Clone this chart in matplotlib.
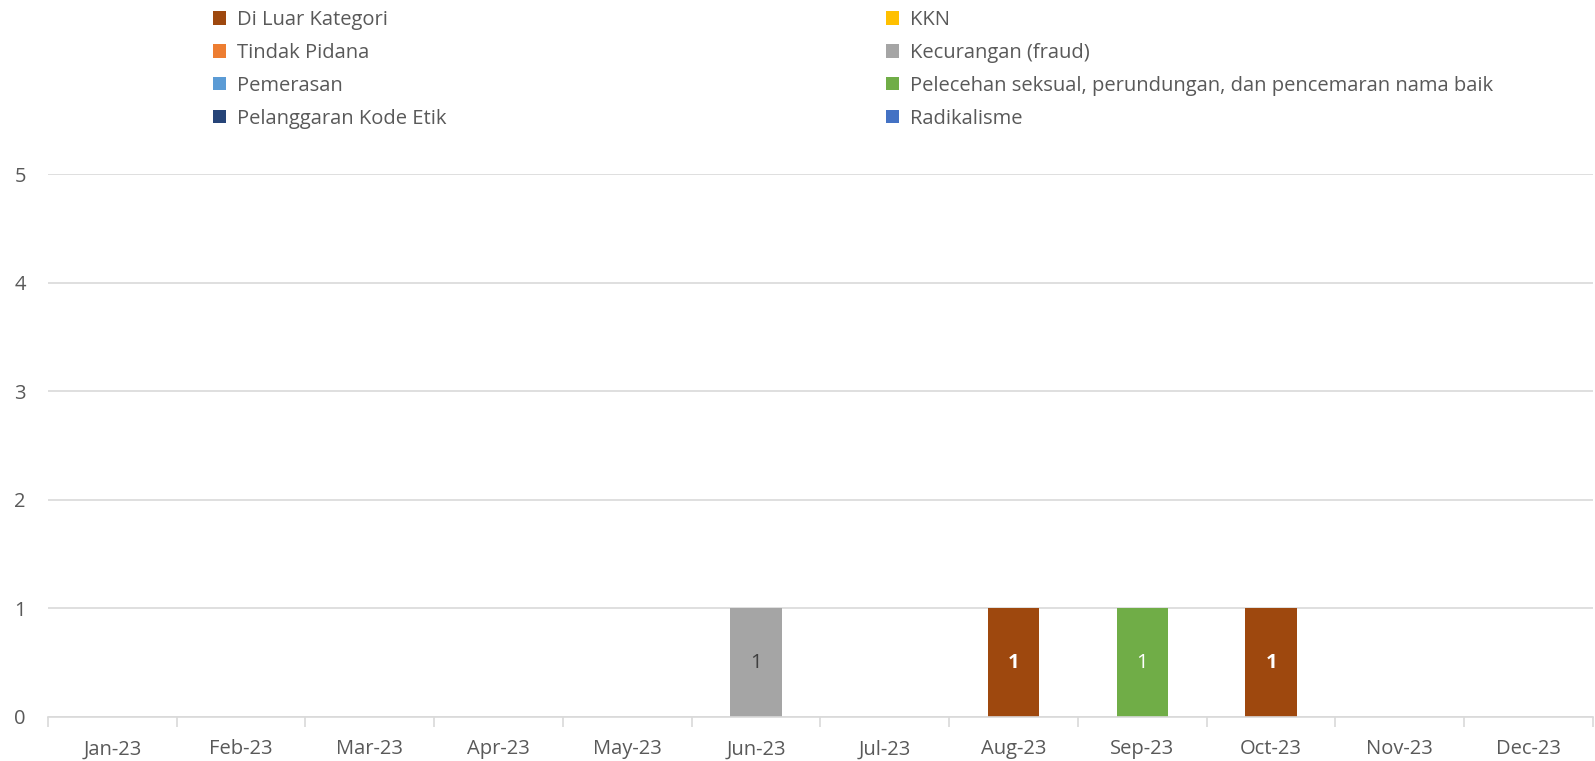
import numpy as np
import matplotlib
matplotlib.use("Agg")
import matplotlib.pyplot as plt
from matplotlib.patches import Patch

# ------------------------------------------------------------
# Data
# ------------------------------------------------------------
months = ["Jan-23", "Feb-23", "Mar-23", "Apr-23", "May-23", "Jun-23",
          "Jul-23", "Aug-23", "Sep-23", "Oct-23", "Nov-23", "Dec-23"]

di_luar_kategori = [0, 0, 0, 0, 0, 0, 0, 1, 0, 1, 0, 0]
kkn = [0] * 12
tindak_pidana = [0] * 12
kecurangan = [0, 0, 0, 0, 0, 1, 0, 0, 0, 0, 0, 0]
pemerasan = [0] * 12
pelecehan = [0, 0, 0, 0, 0, 0, 0, 0, 1, 0, 0, 0]
pelanggaran_kode_etik = [0] * 12
radikalisme = [0] * 12

# (name, values, colour, label colour, bold label)
series = [
    ("Di Luar Kategori", di_luar_kategori, "#9E480E", "white", True),
    ("KKN", kkn, "#FFC000", "#404040", False),
    ("Tindak Pidana", tindak_pidana, "#ED7D31", "#404040", False),
    ("Kecurangan (fraud)", kecurangan, "#A5A5A5", "#404040", False),
    ("Pemerasan", pemerasan, "#5B9BD5", "#404040", False),
    ("Pelecehan seksual, perundungan, dan pencemaran nama baik", pelecehan,
     "#70AD47", "white", False),
    ("Pelanggaran Kode Etik", pelanggaran_kode_etik, "#264478", "white", False),
    ("Radikalisme", radikalisme, "#4472C4", "white", False),
]

# ------------------------------------------------------------
# Figure
# ------------------------------------------------------------
plt.rcParams["font.family"] = ["Open Sans", "DejaVu Sans"]
text_col = "#595959"
grid_col = "#D9D9D9"
fs = 14.5

fig = plt.figure(figsize=(15.95, 7.61), dpi=100)
ax = fig.add_axes([48 / 1595, 44 / 761, 1545 / 1595, 543 / 761])

x = np.arange(len(months))
bottom = np.zeros(len(months))
for name, vals, col, lab_col, bold in series:
    vals = np.array(vals, dtype=float)
    bars = ax.bar(x, vals, width=0.40, bottom=bottom, color=col, zorder=3)
    for rect, v in zip(bars, vals):
        if v > 0:
            ax.text(rect.get_x() + rect.get_width() / 2,
                    rect.get_y() + rect.get_height() / 2,
                    f"{v:g}", ha="center", va="center", fontsize=fs,
                    color=lab_col, fontweight="bold" if bold else "normal",
                    zorder=4)
    bottom += vals

ax.set_xlim(-0.5, len(months) - 0.5)
ax.set_ylim(0, 5)
ax.set_yticks(range(6))
ax.set_xticks(x)
ax.set_xticklabels(months)
ax.set_xticks(np.arange(-0.5, len(months)), minor=True)

ax.tick_params(axis="x", which="major", length=0, pad=16,
               labelsize=fs, labelcolor=text_col)
ax.tick_params(axis="x", which="minor", length=7, color=grid_col, width=1.2)
ax.tick_params(axis="y", length=0, pad=16, labelsize=fs, labelcolor=text_col)

ax.grid(axis="y", color=grid_col, linewidth=1.2, zorder=0)
for side in ["top", "right", "left"]:
    ax.spines[side].set_visible(False)
ax.spines["bottom"].set_color(grid_col)
ax.spines["bottom"].set_linewidth(1.2)
ax.spines["bottom"].set_zorder(5)

# ------------------------------------------------------------
# Legend (two columns)
# ------------------------------------------------------------
col1 = [series[i] for i in (0, 2, 4, 6)]
col2 = [series[i] for i in (1, 3, 5, 7)]

for items, xpos in [(col1, 203 / 1595), (col2, 876 / 1595)]:
    handles = [Patch(facecolor=s[2]) for s in items]
    leg = fig.legend(handles, [s[0] for s in items],
                     loc="upper left", bbox_to_anchor=(xpos, 1.0),
                     frameon=False, fontsize=fs, labelcolor=text_col,
                     handlelength=0.65, handleheight=0.65, handletextpad=0.55,
                     labelspacing=0.64, borderaxespad=0.1)

fig.savefig("out.png", dpi=100)
